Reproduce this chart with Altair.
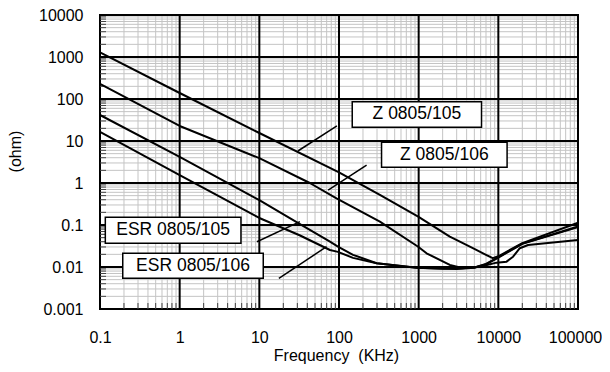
import altair as alt
import pandas as pd

# ---------------- data ----------------
z105_f = [0.1, 1, 10, 100, 326, 986, 2460, 3290, 5000, 7000, 8500, 10000, 20000, 100000]
z105_v = [1290, 139, 15.5, 1.8, 0.52, 0.158, 0.0526, 0.040, 0.027, 0.0195, 0.0163, 0.0180, 0.037, 0.113]

z106_f = [0.1, 1, 10, 43, 93, 326, 986, 1256, 2460, 3500, 5000, 7000, 10000, 20000, 100000]
z106_v = [228, 22.8, 3.9, 1.0, 0.43, 0.12, 0.0304, 0.0212, 0.0112, 0.0095, 0.0097, 0.0118, 0.0172, 0.036, 0.092]

esr105_f = [0.1, 1, 10, 32, 77, 97, 150, 297, 942, 2000, 3500, 5000, 7000, 9500, 12700, 15300, 18600, 23600, 100000]
esr105_v = [41.6, 4.2, 0.39, 0.106, 0.040, 0.0304, 0.0195, 0.0123, 0.0096, 0.0092, 0.0093, 0.0098, 0.0110, 0.0127, 0.0134, 0.0176, 0.028, 0.0334, 0.044]

esr106_f = [0.1, 1, 10, 32, 77, 97, 150, 297, 942, 2000, 3000, 5000, 7000, 10000, 20000, 100000]
esr106_v = [16.4, 1.55, 0.147, 0.057, 0.0254, 0.0229, 0.0165, 0.0123, 0.0096, 0.0091, 0.0090, 0.0096, 0.0116, 0.0168, 0.0355, 0.089]

x_ticks = [0.1, 1, 10, 100, 1000, 10000, 100000]
y_ticks = [0.001, 0.01, 0.1, 1, 10, 100, 1000, 10000]
sub_mult = [2, 3, 4, 5, 6, 7, 8, 9]

# annotation boxes (data coordinates)
box_labels = ["Z 0805/105", "Z 0805/106", "ESR 0805/105", "ESR 0805/106"]
box_f1 = [146.6, 342, 0.1166, 0.193]
box_f2 = [6150, 12880, 5.88, 11.2]
box_v1 = [86.3, 9.3, 0.152, 0.0212]
box_v2 = [21.2, 2.37, 0.0367, 0.00538]
box_tf = [949, 2100, 0.828, 1.47]
box_tv = [42.8, 4.7, 0.0748, 0.01067]

# leader lines (data coordinates)
lead_f1 = [30.5, 73.1, 9.33, 17.6]
lead_v1 = [5.78, 0.681, 0.040, 0.00538]
lead_f2 = [94.2, 222, 32.3, 69.8]
lead_v2 = [22.8, 2.68, 0.12, 0.0304]

# ---------------- tables ----------------
rows = []
for name, fs, vs in [("Z 0805/105", z105_f, z105_v), ("Z 0805/106", z106_f, z106_v),
                     ("ESR 0805/105", esr105_f, esr105_v), ("ESR 0805/106", esr106_f, esr106_v)]:
    for i, (f, v) in enumerate(zip(fs, vs)):
        rows.append({"series": name, "f": f, "v": v, "i": i})
curves = pd.DataFrame(rows)

minor_x = [d * m for d in x_ticks[:-1] for m in sub_mult]
minor_y = [d * m for d in y_ticks[:-1] for m in sub_mult]

boxes = pd.DataFrame({"label": box_labels, "f": box_f1, "f2": box_f2, "v": box_v1, "v2": box_v2,
                      "tf": box_tf, "tv": box_tv})
leaders = pd.DataFrame({"f": lead_f1, "v": lead_v1, "f2": lead_f2, "v2": lead_v2})

FONT = "Liberation Sans"
xscale = alt.Scale(type="log", domain=[0.1, 100000], nice=False)
yscale = alt.Scale(type="log", domain=[0.001, 10000], nice=False)

x_axis = alt.Axis(
    values=x_ticks, format="~g", grid=False, ticks=False, domain=False,
    labelFont=FONT, labelFontSize=16, labelColor="black", labelPadding=20,
    labelFlush=False, labelOverlap=False,
    labelOffset={"condition": {"test": "datum.value >= 50000", "value": -3}, "value": 0},
    title="Frequency\u00a0\u00a0(KHz)", titleFont=FONT, titleFontSize=16, titleFontWeight="normal",
    titleColor="black", titleX=236, titleY=51.5, titleAlign="center", titleBaseline="alphabetic")
y_axis = alt.Axis(
    values=y_ticks, format="~g", grid=False, ticks=False, domain=False,
    labelFont=FONT, labelFontSize=16, labelColor="black", labelPadding=17,
    labelFlush=False, labelOverlap=False,
    title="(ohm)", titleFont=FONT, titleFontSize=16, titleFontWeight="normal",
    titleColor="black", titleX=-85, titleY=136, titleAngle=270,
    titleAlign="center", titleBaseline="middle")


def X(field="f"):
    return alt.X(f"{field}:Q", scale=xscale, axis=x_axis)


def Y(field="v"):
    return alt.Y(f"{field}:Q", scale=yscale, axis=y_axis)


minor_vx = alt.Chart(pd.DataFrame({"f": minor_x})).mark_rule(color="#c4c4c4", strokeWidth=1).encode(x=X())
minor_hy = alt.Chart(pd.DataFrame({"v": minor_y})).mark_rule(color="#c4c4c4", strokeWidth=1).encode(y=Y())
major_vx = alt.Chart(pd.DataFrame({"f": x_ticks})).mark_rule(color="black", strokeWidth=2).encode(x=X())
major_hy = alt.Chart(pd.DataFrame({"v": y_ticks})).mark_rule(color="black", strokeWidth=2).encode(y=Y())

tick_left = alt.Chart(pd.DataFrame({"v": minor_y})).mark_rule(color="#444444", strokeWidth=1).encode(
    y=Y(), x=alt.value(0), x2=alt.value(6))
tick_bottom = alt.Chart(pd.DataFrame({"f": minor_x})).mark_rule(color="#444444", strokeWidth=1).encode(
    x=X(), y=alt.value(294), y2=alt.value(288))

lines = alt.Chart(curves).mark_line(color="black", strokeWidth=2, strokeJoin="round").encode(
    x=X(), y=Y(), detail="series:N", order="i:Q")

lead = alt.Chart(leaders).mark_rule(color="black", strokeWidth=1.5).encode(
    x=X(), y=Y(), x2="f2:Q", y2="v2:Q")

rect = alt.Chart(boxes).mark_rect(fill="white", stroke="black", strokeWidth=1.5).encode(
    x=X(), x2="f2:Q", y=Y(), y2="v2:Q")

txt = alt.Chart(boxes).mark_text(font=FONT, fontSize=17.5, color="black", align="center",
                                 baseline="middle").encode(x=X("tf"), y=Y("tv"), text="label:N")

chart = alt.layer(minor_vx, minor_hy, major_vx, major_hy, tick_left, tick_bottom,
                  lines, lead, rect, txt).properties(
    width=478, height=294,
    autosize=alt.AutoSizeParams(type="none"),
    padding={"left": 92, "top": 7, "right": 24, "bottom": 55},
    background="white",
).configure_view(stroke="black", strokeWidth=2)

chart.save("out.html", embed_options={"renderer": "svg", "actions": False})
